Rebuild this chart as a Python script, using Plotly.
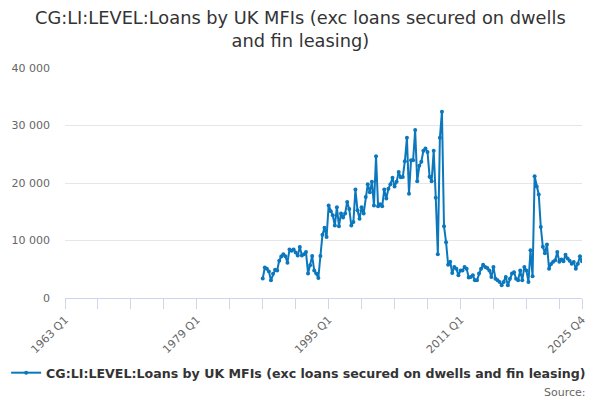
import plotly.graph_objects as go

# quarterly values, 1987 Q1 .. 2025 Q4 (GBP m)
start_year = 1987
values = [
    3400, 5300, 5100, 4600, 3100, 4200, 4900, 4800,
    6500, 7200, 7600, 7250, 6150, 8450, 8200, 8450,
    7900, 7400, 8850, 7400, 7600, 8000, 4250, 5700,
    7300, 4800, 4250, 3500, 7300, 11000, 12200, 10600,
    16100, 15100, 14400, 12600, 15800, 12500, 14700, 14000,
    14700, 16700, 15500, 12600, 13200, 18850, 15250, 13800,
    15800, 14700, 17550, 19800, 18400, 20200, 16100, 24650,
    15950, 16300, 15950, 18850, 17300, 19000, 19800, 20900,
    19400, 20200, 21900, 21000, 21050, 23800, 27850, 18150,
    23950, 23950, 29200, 20300, 23000, 23700, 25600, 26000,
    25400, 21100, 20300, 25600, 17450, 7600, 27850, 32400,
    12500, 9700, 5800, 6300, 4350, 5400, 5100, 3950,
    4800, 4800, 5400, 5100, 3550, 3650, 3950, 3100,
    3100, 4250, 5100, 5800, 5400, 5200, 4800, 3650,
    5400, 3350, 3100, 2800, 2200, 2800, 3650, 2200,
    3350, 4250, 4500, 3350, 3100, 4800, 3100, 5400,
    4800, 2800, 8300, 3800, 21170, 19400, 18000, 12350,
    8900, 7800, 9300, 5100, 5900, 6300, 6550, 8000,
    6300, 6700, 6400, 7540, 6850, 6500, 5970, 6260,
    5100, 5970, 7250, 6380,
]

# axis categories 1963 Q1 .. 2025 Q4
quarters = [f"{y} Q{q}" for y in range(1963, 2026) for q in range(1, 5)]
labelled = ["1963 Q1", "1979 Q1", "1995 Q1", "2011 Q1", "2025 Q4"]

x = quarters[quarters.index(f"{start_year} Q1"):][:len(values)]

tickvals = quarters[::16] + ["2025 Q4"]
ticktext = [t if t in labelled else "" for t in tickvals]

name = "CG:LI:LEVEL:Loans by UK MFIs (exc loans secured on dwells and fin leasing)"
title = "CG:LI:LEVEL:Loans by UK MFIs (exc loans secured on dwells<br>and fin leasing)"
blue = "#0b77bd"

fig = go.Figure()
fig.add_trace(go.Scatter(
    x=x, y=values, mode="lines+markers", name=name,
    line=dict(color=blue, width=2),
    marker=dict(color=blue, size=4),
))

# page body has an 8px margin, so the figure is drawn 8px in from the corner
fig.update_layout(
    width=592, height=392,
    margin=dict(l=57, r=18, t=60, b=102, autoexpand=False),
    paper_bgcolor="white", plot_bgcolor="white",
    font=dict(family="DejaVu Sans", color="#666666", size=11),
    separators=". ",
    showlegend=True,
    legend=dict(
        orientation="h", xref="container", yref="container",
        x=0.985, xanchor="right", y=0.0689, yanchor="middle",
        font=dict(size=12.6, color="#333333", weight="bold"),
        itemwidth=30,
    ),
    annotations=[
        dict(text=title, xref="paper", yref="paper",
             x=0.4546, xanchor="center", y=1.1713, yanchor="middle",
             showarrow=False, font=dict(size=17.8, color="#333333")),
        dict(text="Source:", xref="paper", yref="paper",
             x=1.011, xanchor="right", y=-0.411, yanchor="middle",
             showarrow=False, font=dict(size=11, color="#666666")),
    ],
)

fig.update_xaxes(
    type="category", categoryorder="array", categoryarray=quarters,
    range=[0, len(quarters) - 1], automargin=False,
    tickmode="array", tickvals=tickvals, ticktext=ticktext,
    tickangle=-45, ticks="outside", ticklen=10, tickcolor="#ccd6eb",
    showline=True, linecolor="#ccd6eb", linewidth=1,
    showgrid=False, zeroline=False,
)
fig.update_yaxes(
    range=[0, 40000], tickvals=[0, 10000, 20000, 30000, 40000],
    tickformat=",", showgrid=True, gridcolor="#e6e6e6",
    zeroline=False, showline=False, ticklabelstandoff=14, automargin=False,
)

fig.write_html("out.html")
